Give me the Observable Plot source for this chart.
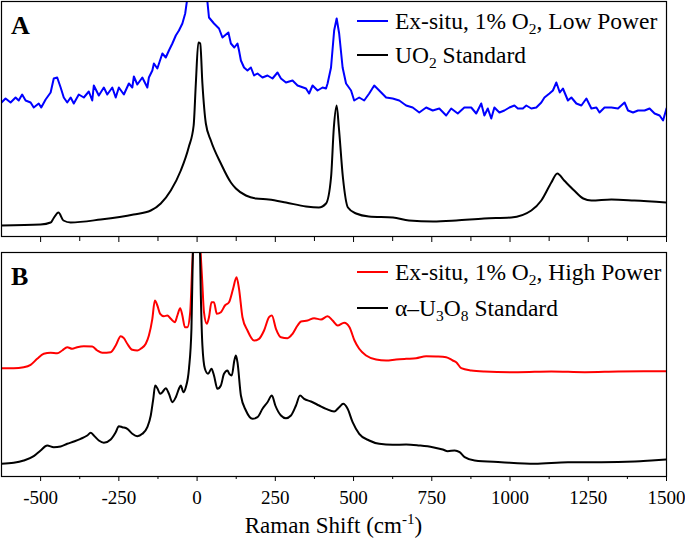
<!DOCTYPE html>
<html><head><meta charset="utf-8">
<script src="https://cdn.jsdelivr.net/npm/d3@7"></script>
<script src="https://cdn.jsdelivr.net/npm/@observablehq/plot@0.6"></script>
<style>
body{margin:0;background:#fff;}
#wrap{position:relative;width:685px;height:541px;font-family:"Liberation Serif",serif;background:#fff;}
#wrap > svg{display:block;}
#overlay{position:absolute;left:0;top:0;pointer-events:none;}
</style></head><body><div id="wrap"></div>
<script>
// ---- Panel A: UO2 standard (black) ----
const uo2Shift = [-625,-500,-468,-459,-443,-427,-404,-308,-203,-148,-116,-84,-52,-27,-11,-4,4,10,17,28,44,76,108,124,156,188,229,284,348,389,412,428,437,446,453,466,482,508,549,626,677,754,828,917,1004,1068,1100,1132,1151,1173,1205,1234,1260,1324,1397,1500];
const uo2Int = [11,12,14,18,24,16,14,17,22,26,33,46,66,89,111,153,194,193,153,113,96,73,54,48,41,38,37,34,30,29,33,59,109,131,109,59,29,23,20,19,16,15,16,18,19,26,36,54,63,56,46,38,36,37,36,34];

// ---- Panel A: Ex-situ, 1% O2, Low Power (blue) ----
const lowShift = [-625,-612,-596,-580,-570,-559,-548,-532,-522,-506,-498,-484,-468,-458,-447,-436,-426,-415,-404,-394,-378,-362,-346,-335,-330,-314,-298,-287,-271,-260,-250,-234,-218,-207,-202,-191,-175,-159,-154,-143,-138,-127,-111,-100,-90,-79,-68,-58,-47,-38,-30,0,31,38,54,70,81,100,108,119,129,134,140,150,161,172,182,193,209,225,241,257,268,284,305,321,348,358,369,385,401,412,417,428,438,446,454,465,476,492,502,518,534,550,566,582,604,625,646,668,689,710,732,753,774,796,812,833,854,876,892,908,918,929,940,950,966,982,998,1014,1025,1041,1052,1068,1084,1100,1110,1126,1137,1148,1159,1169,1185,1196,1212,1228,1244,1260,1276,1286,1302,1324,1345,1366,1377,1393,1409,1430,1446,1462,1478,1489,1500];
const lowInt = [134,138,134,139,136,142,136,134,129,133,129,137,144,158,159,149,139,134,139,133,142,139,145,136,151,141,149,142,149,139,149,142,153,149,160,152,159,149,159,166,173,168,183,179,186,193,201,206,213,223,241,300,241,219,213,208,199,204,193,189,193,186,176,169,166,169,161,163,159,161,158,164,158,154,156,151,148,143,151,146,149,148,153,169,206,218,203,169,153,146,136,139,136,143,151,146,139,138,136,131,129,124,129,126,128,121,128,123,129,129,123,133,121,128,118,129,124,126,129,131,128,128,131,128,129,134,139,143,146,154,144,148,136,139,133,131,138,128,129,124,129,129,128,134,126,124,126,126,128,123,121,116,128];

// ---- Panel B: alpha-U3O8 standard (black) ----
const u3o8Shift = [-625,-586,-554,-522,-500,-479,-458,-436,-415,-394,-372,-351,-340,-330,-314,-298,-276,-260,-250,-239,-223,-207,-191,-175,-159,-148,-140,-134,-127,-118,-111,-100,-90,-79,-68,-58,-52,-44,-36,-26,-18,-13,0,9,12,17,25,35,46,54,65,76,86,97,103,111,119,124,129,140,156,177,193,209,225,239,250,268,284,300,316,329,342,364,390,412,438,454,467,481,497,518,550,582,625,668,710,753,785,801,823,839,855,887,972,1079,1185,1292,1399,1452,1500];
const u3o8Int = [12.7,13.7,16,20.3,26,31,29.3,30,32.7,35,37.7,41,43.7,41,36,33.7,37,44.3,50.3,49.3,47.7,42.7,40.3,42.7,49.3,61,77.7,91,88.3,82.7,84.3,88.3,82.7,74.3,79.3,87.7,91,84.3,89.3,107.7,147.7,231,300,231,181,131,107.7,102.7,107.7,101,87.7,91,102.7,106,102.7,101,116,121,114.3,81,66,57.7,59.3,67.7,74.3,81,71,61,58.3,61,71,81,77.7,75,71,67.7,65,69.3,72.7,67.7,54.3,42.7,36,32.7,31.7,32,31,29.3,27,25.3,26,24.3,19.3,16,14.3,12.7,14.3,14.3,15,16,17];

// ---- Panel B: Ex-situ, 1% O2, High Power (red) ----
const highShift = [-625,-586,-554,-532,-511,-490,-468,-447,-431,-415,-399,-383,-362,-335,-319,-303,-276,-260,-244,-234,-223,-207,-191,-180,-164,-154,-143,-135,-127,-118,-106,-95,-84,-71,-63,-54,-47,-39,-31,-22,-15,-12,0,10,16,22,31,38,46,54,63,76,89,102,115,126,134,145,161,182,198,214,230,239,252,268,289,305,321,332,353,374,396,417,433,449,470,487,503,518,540,572,604,636,668,700,732,764,796,817,828,844,876,918,1025,1132,1239,1345,1452,1500];
const highInt = [108.3,108.3,109.3,111.7,117.7,122.7,123.7,123.3,126,129.3,127.7,129.3,130.3,130,126,123.7,124.3,131,140.3,138.3,132.7,126.7,126,127.7,132.7,141,157.7,176,171,162.7,160.3,161,157.7,154.3,161,168.3,161,149.3,149.3,164.3,214.3,231,300,231,197.7,164.3,152.7,159.3,174.3,174.3,162.7,164.3,171,174.3,187.7,199.3,187.7,159.3,146,136,137.7,146,159.3,161,147.7,139.3,138.3,142.7,151,155,156,158.3,157,160.3,156,151,153.7,149.3,136,127.7,121,117,116,117,117.7,118.3,120.3,120,119.3,116,114.3,108.3,106,105,104.3,105,104.3,105,105.3,105.3];

// ---- Axis ticks ----
const xDomain = [-625, 1500];
const majorTicks = [-500,-250,0,250,500,750,1000,1250,1500];
const minorTicks = [-375,-125,125,375,625,875,1125,1375];
const xTitle = "Raman Shift (cm";
const xTitleSup = "-1";

const toRows = (xs, ys) => xs.map((x, i) => ({x, y: ys[i]}));
const uo2 = toRows(uo2Shift, uo2Int);
const low = toRows(lowShift, lowInt);
const u3o8 = toRows(u3o8Shift, u3o8Int);
const high = toRows(highShift, highInt);

const baseStyle = {fontFamily: "Liberation Serif, serif", fontSize: "19px", color: "#000", background: "white", overflow: "visible"};

const plotA = Plot.plot({
  width: 685, height: 244,
  marginLeft: 1, marginRight: 19, marginTop: 1, marginBottom: 8,
  style: baseStyle,
  x: {domain: xDomain},
  y: {domain: [0, 235], axis: null},
  marks: [
    Plot.line(low, {x: "x", y: "y", stroke: "#0000ff", strokeWidth: 2, clip: true}),
    Plot.line(uo2, {x: "x", y: "y", stroke: "#000", strokeWidth: 2, curve: "monotone-x", clip: true}),
    Plot.axisX({ticks: majorTicks, tickSize: 6, tickFormat: () => "", label: null}),
    Plot.axisX({ticks: minorTicks, tickSize: 5, tickFormat: () => "", label: null}),
    Plot.frame({stroke: "#000", strokeWidth: 1.2})
  ]
});

const plotB = Plot.plot({
  width: 685, height: 297,
  marginLeft: 1, marginRight: 19, marginTop: 8, marginBottom: 65,
  style: baseStyle,
  x: {domain: xDomain},
  y: {domain: [0, 224], axis: null},
  marks: [
    Plot.line(high, {x: "x", y: "y", stroke: "#ff0000", strokeWidth: 2, curve: "monotone-x", clip: true}),
    Plot.line(u3o8, {x: "x", y: "y", stroke: "#000", strokeWidth: 2, curve: "monotone-x", clip: true}),
    Plot.axisX({ticks: majorTicks, tickSize: 5, tickPadding: 9, tickFormat: d => String(d), label: null}),
    Plot.axisX({ticks: minorTicks, tickSize: 3, tickFormat: () => "", label: null}),
    Plot.frame({stroke: "#000", strokeWidth: 1.2})
  ]
});

const wrap = document.getElementById("wrap");
wrap.appendChild(plotA);
wrap.appendChild(plotB);

// ---- Overlay: panel letters, legends, axis title ----
const NS = "http://www.w3.org/2000/svg";
const ov = document.createElementNS(NS, "svg");
ov.setAttribute("id", "overlay");
ov.setAttribute("width", 685);
ov.setAttribute("height", 541);
ov.setAttribute("font-family", "Liberation Serif, serif");
wrap.appendChild(ov);

function addText(x, y, parts, size, opts = {}) {
  const t = document.createElementNS(NS, "text");
  t.setAttribute("x", x); t.setAttribute("y", y);
  t.setAttribute("font-size", size);
  t.setAttribute("fill", "#000");
  if (opts.weight) t.setAttribute("font-weight", opts.weight);
  if (opts.anchor) t.setAttribute("text-anchor", opts.anchor);
  let shift = 0;
  for (const p of parts) {
    const s = document.createElementNS(NS, "tspan");
    const want = p.sub ? 5 : p.sup ? -9 : 0;
    if (want !== shift) { s.setAttribute("dy", want - shift); shift = want; }
    if (p.sub || p.sup) s.setAttribute("font-size", size * 0.66);
    s.textContent = p.t;
    t.appendChild(s);
  }
  ov.appendChild(t);
}
function addLine(x1, x2, y, color) {
  const l = document.createElementNS(NS, "line");
  l.setAttribute("x1", x1); l.setAttribute("x2", x2);
  l.setAttribute("y1", y); l.setAttribute("y2", y);
  l.setAttribute("stroke", color); l.setAttribute("stroke-width", 2);
  ov.appendChild(l);
}

addText(11, 34, [{t: "A"}], 26, {weight: "bold"});
addText(11, 285, [{t: "B"}], 26, {weight: "bold"});

addLine(357, 388, 21, "#0000ff");
addText(395, 28.5, [{t: "Ex-situ, 1% O"}, {t: "2", sub: true}, {t: ", Low Power"}], 23.5);
addLine(357, 388, 55, "#000");
addText(395, 63, [{t: "UO"}, {t: "2", sub: true}, {t: " Standard"}], 23.5);

addLine(357, 388, 272, "#ff0000");
addText(395, 280, [{t: "Ex-situ, 1% O"}, {t: "2", sub: true}, {t: ", High Power"}], 23.5);
addLine(357, 388, 308, "#000");
addText(395, 316, [{t: "\u03b1\u2013U"}, {t: "3", sub: true}, {t: "O"}, {t: "8", sub: true}, {t: " Standard"}], 23.5);

addText(333.5, 533, [{t: xTitle}, {t: xTitleSup, sup: true}, {t: ")"}], 23, {anchor: "middle"});
</script>
</body></html>
